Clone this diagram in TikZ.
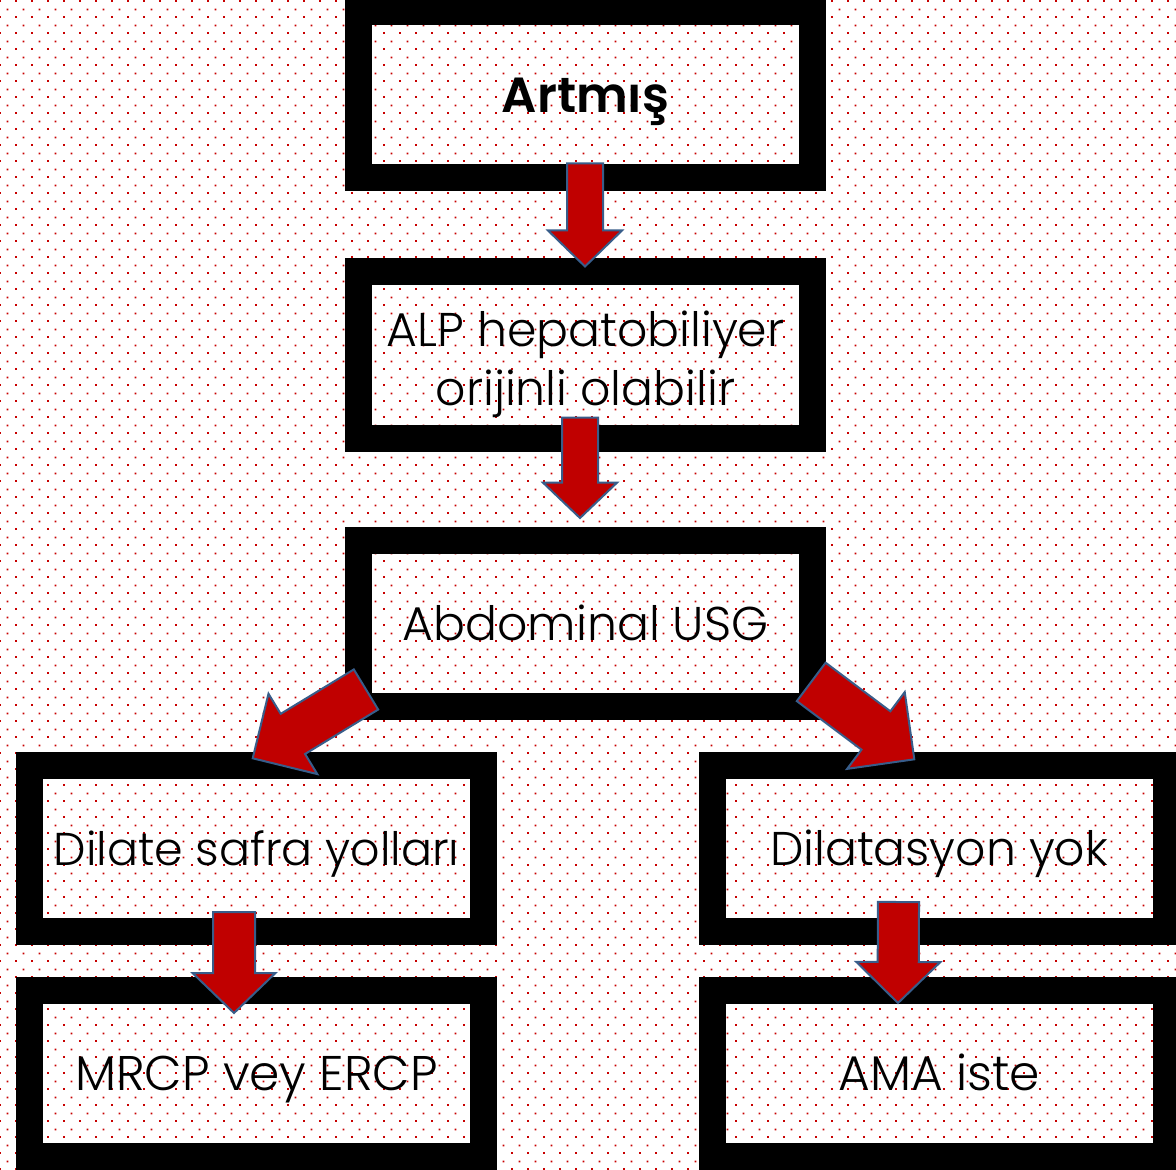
\documentclass[tikz,border=0pt]{standalone}
\usepackage{fontspec}
\setmainfont{Poppins}[UprightFont=* Light, BoldFont=* SemiBold]
\usetikzlibrary{calc,patterns}
\pgfdeclarepatternformonly{reddots}{\pgfqpoint{0pt}{0pt}}{\pgfqpoint{12pt}{12pt}}{\pgfqpoint{12pt}{12pt}}{%
 \pgfpathrectangle{\pgfqpoint{0pt}{0pt}}{\pgfqpoint{1.5pt}{1.5pt}}%
 \pgfpathrectangle{\pgfqpoint{6pt}{6pt}}{\pgfqpoint{1.5pt}{1.5pt}}%
 \pgfusepath{fill}}
\definecolor{dotred}{RGB}{200,0,0}
\definecolor{arrred}{RGB}{192,0,0}
\definecolor{arrblue}{RGB}{56,93,138}
\newcommand\blockarr[5]{%
 \coordinate (ba-h) at ($(#2)!#5!(#1)$);
 \draw[arrsty] ($(#1)!#3!90:(#2)$) -- ($(ba-h)!#3!-90:(#1)$) -- ($(ba-h)!#4!-90:(#1)$) -- (#2)
   -- ($(ba-h)!#4!90:(#1)$) -- ($(ba-h)!#3!90:(#1)$) -- ($(#1)!#3!-90:(#2)$) -- cycle;
}
\begin{document}
\begin{tikzpicture}[x=0.75pt,y=-0.75pt,
 box/.style={draw=black, line width=20.25pt, minimum width=340.5pt, minimum height=124.5pt,
   inner sep=0pt, outer sep=0pt, font=\fontsize{35.5}{44.25}\selectfont, text=black, align=center},
 oneline/.style={box, text height=24.8pt, text depth=0pt},
 txt/.style={inner sep=0pt, font=\fontsize{35.5}{44.25}\selectfont, text=black, align=center},
 arrsty/.style={fill=arrred, draw=arrblue, line width=1.5pt, line join=miter}]
\fill[white] (0,0) rectangle (1176,1169);
\fill[pattern=reddots, pattern color=dotred] (0,0) rectangle (1176,1169);
\useasboundingbox (0,0) rectangle (1176,1169);

\node[oneline, font=\bfseries\fontsize{37}{44}\selectfont, text height=26.5pt] (b1) at (585.5,95) {Artmış};
\node[box] (b2) at (585.5,355) {};
\node[txt] (t2) at ($(b2.center)+(0,9)$) {ALP hepatobiliyer\\orijinli olabilir};
\node[oneline] (b3) at (585.5,623.5) {Abdominal USG};
\node[oneline, font=\fontsize{34.5}{40}\selectfont] (b4) at (256.5,848.5) {Dilate safra yolları};
\node[oneline] (b5) at (939,848.5) {Dilatasyon yok};
\node[oneline, font=\fontsize{36.5}{44}\selectfont] (b6) at (256.5,1073.5) {MRCP vey ERCP};
\node[oneline, font=\fontsize{36.5}{44}\selectfont] (b7) at (939,1073.5) {AMA iste};

\coordinate (a1s) at ($(b1.south)+(-0.5,-14.5)$);
\coordinate (a1t) at ($(b2.north)+(-0.5,-5.5)$);
\coordinate (a2s) at ($(b2.south)+(-5.5,-20.5)$);
\coordinate (a2t) at ($(b3.north)+(-5.5,-22.5)$);
\coordinate (a3s) at ($(b3.south west)+(7.5,-17)$);
\coordinate (a3t) at ($(b4.north)+(-3.8,-7.2)$);
\coordinate (a4s) at ($(b3.south east)+(-1.3,-24.6)$);
\coordinate (a4t) at ($(b5.north)+(-24.7,-6.2)$);
\coordinate (a5s) at ($(b4.south)+(-22.5,-19.5)$);
\coordinate (a5t) at ($(b6.north)+(-22.5,22.5)$);
\coordinate (a6s) at ($(b5.south)+(-40.5,-29.5)$);
\coordinate (a6t) at ($(b7.north)+(-41,12.5)$);

\blockarr{a1s}{a1t}{13.5pt}{27.75pt}{27pt}
\blockarr{a2s}{a2t}{13.5pt}{27.75pt}{26.5pt}
\blockarr{a3s}{a3t}{17.6pt}{35.25pt}{35.25pt}
\blockarr{a4s}{a4t}{18pt}{36pt}{36pt}
\blockarr{a5s}{a5t}{15.75pt}{31.1pt}{30pt}
\blockarr{a6s}{a6t}{15.4pt}{31.5pt}{30.75pt}
\end{tikzpicture}
\end{document}
